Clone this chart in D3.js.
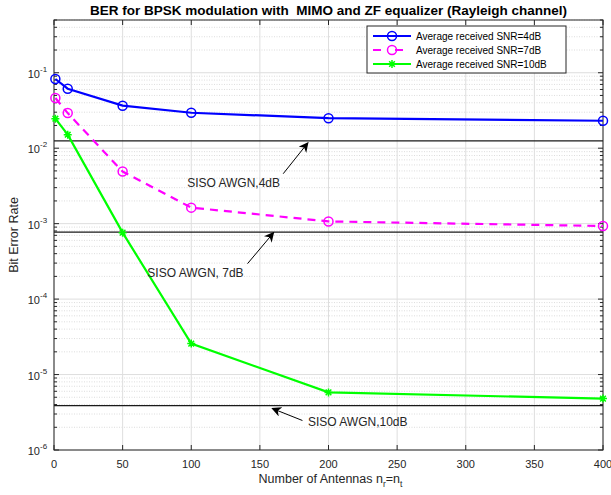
<!DOCTYPE html>
<html>
<head>
<meta charset="utf-8">
<script src="https://cdn.jsdelivr.net/npm/d3@7"></script>
<style>
  body { margin: 0; background: #fff; }
  svg { font-family: "Liberation Sans", Arial, Helvetica, sans-serif; display: block; }
</style>
</head>
<body>
<div id="chart"></div>
<script>
// Data
const antennas = [1, 10, 50, 100, 200, 400];
const berSnr4 = [0.0826, 0.0614, 0.0366, 0.0295, 0.025, 0.0231];
const berSnr7 = [0.0462, 0.0292, 0.0049, 0.00163, 0.00107, 0.00093];
const berSnr10 = [0.0246, 0.0151, 0.00076, 2.57e-5, 5.8e-6, 4.8e-6];
const seriesNames = ["Average received SNR=4dB", "Average received SNR=7dB", "Average received SNR=10dB"];

// SISO AWGN reference BERs (BPSK) at 4, 7, 10 dB
const sisoBer = [0.0125, 7.73e-4, 3.87e-6];

// Annotations in data units: text anchor, arrow tail, arrow head
const annotations = [
  {label: "SISO AWGN,4dB", tx: 97, ty: 3.49e-3, x1: 167, y1: 4.59e-3, x2: 185, y2: 0.0118},
  {label: "SISO AWGN, 7dB", tx: 68, ty: 2.26e-4, x1: 141, y1: 2.95e-4, x2: 160, y2: 7.6e-4},
  {label: "SISO AWGN,10dB", tx: 185, ty: 2.4e-6, x1: 181, y1: 2.46e-6, x2: 159, y2: 3.55e-6}
];

const xTicks = [0, 50, 100, 150, 200, 250, 300, 350, 400];
const yDecades = [-6, -5, -4, -3, -2, -1];

// Dimensions
const width = 611;
const height = 495;
const margin = {top: 20, right: 8, bottom: 45, left: 54};
const innerWidth = width - margin.left - margin.right;
const innerHeight = height - margin.top - margin.bottom;

const svg = d3.select("#chart")
  .append("svg")
    .attr("width", width)
    .attr("height", height);

const defs = svg.append("defs");
defs.append("marker")
    .attr("id", "arrowhead")
    .attr("viewBox", "0 0 10 10")
    .attr("refX", 9)
    .attr("refY", 5)
    .attr("markerWidth", 10)
    .attr("markerHeight", 10)
    .attr("markerUnits", "userSpaceOnUse")
    .attr("orient", "auto")
  .append("path")
    .attr("d", "M0,0 L10,5 L0,10 L3,5 Z")
    .attr("fill", "#000");

const inner = svg.append("g")
  .attr("transform", `translate(${margin.left}, ${margin.top})`);

// Scales
const x = d3.scaleLinear().domain([0, 400]).range([0, innerWidth]);
const y = d3.scaleLog().domain([1e-6, 0.5]).range([innerHeight, 0]);

// minor values on the log axis
const minorVals = [];
yDecades.forEach(e => {
  d3.range(2, 10).forEach(m => {
    const v = m * Math.pow(10, e);
    if (v <= 0.5 + 1e-12) minorVals.push(v);
  });
});

// Grid: y minor dotted, y major and x major solid light
inner.append("g")
  .selectAll("line")
  .data(minorVals)
  .join("line")
    .attr("x1", 0).attr("x2", innerWidth)
    .attr("y1", d => y(d)).attr("y2", d => y(d))
    .attr("stroke", "#d4d4d4")
    .attr("stroke-width", 0.8)
    .attr("stroke-dasharray", "1,1.5");

inner.append("g")
  .selectAll("line")
  .data(yDecades.map(e => Math.pow(10, e)))
  .join("line")
    .attr("x1", 0).attr("x2", innerWidth)
    .attr("y1", d => y(d)).attr("y2", d => y(d))
    .attr("stroke", "#dedede")
    .attr("stroke-width", 1);

inner.append("g")
  .selectAll("line")
  .data(xTicks)
  .join("line")
    .attr("x1", d => x(d)).attr("x2", d => x(d))
    .attr("y1", 0).attr("y2", innerHeight)
    .attr("stroke", "#dedede")
    .attr("stroke-width", 1);

// SISO AWGN reference lines
inner.append("g")
  .selectAll("line")
  .data(sisoBer)
  .join("line")
    .attr("x1", 0).attr("x2", innerWidth)
    .attr("y1", d => y(d)).attr("y2", d => y(d))
    .attr("stroke", "#1a1a1a")
    .attr("stroke-width", 1.3);

// Box and inner ticks (MATLAB style)
const axisColor = "#262626";
const tickG = inner.append("g").attr("stroke", axisColor).attr("stroke-width", 1);
xTicks.forEach(t => {
  tickG.append("line").attr("x1", x(t)).attr("x2", x(t)).attr("y1", innerHeight).attr("y2", innerHeight - 5);
  tickG.append("line").attr("x1", x(t)).attr("x2", x(t)).attr("y1", 0).attr("y2", 5);
});
yDecades.forEach(e => {
  const v = y(Math.pow(10, e));
  tickG.append("line").attr("x1", 0).attr("x2", 5).attr("y1", v).attr("y2", v);
  tickG.append("line").attr("x1", innerWidth).attr("x2", innerWidth - 5).attr("y1", v).attr("y2", v);
});
minorVals.forEach(m => {
  const v = y(m);
  tickG.append("line").attr("x1", 0).attr("x2", 3).attr("y1", v).attr("y2", v);
  tickG.append("line").attr("x1", innerWidth).attr("x2", innerWidth - 3).attr("y1", v).attr("y2", v);
});

inner.append("rect")
  .attr("width", innerWidth)
  .attr("height", innerHeight)
  .attr("fill", "none")
  .attr("stroke", axisColor)
  .attr("stroke-width", 1);

// Tick labels
inner.append("g")
  .selectAll("text")
  .data(xTicks)
  .join("text")
    .attr("x", d => x(d))
    .attr("y", innerHeight + 18)
    .attr("text-anchor", "middle")
    .attr("font-size", 11)
    .attr("fill", axisColor)
    .text(d => d);

// y labels as 10 with a raised exponent
const yLab = inner.append("g")
  .selectAll("g")
  .data(yDecades)
  .join("g")
    .attr("transform", d => `translate(-14, ${y(Math.pow(10, d)) + 5})`);
yLab.append("text")
  .attr("text-anchor", "end")
  .attr("font-size", 11)
  .attr("fill", axisColor)
  .text("10");
yLab.append("text")
  .attr("x", 0)
  .attr("y", -6)
  .attr("font-size", 8)
  .attr("fill", axisColor)
  .text(d => "-" + (-d));

// Axis titles
const xTitle = svg.append("text")
  .attr("x", margin.left + innerWidth / 2 + 2)
  .attr("y", 483)
  .attr("text-anchor", "middle")
  .attr("font-size", 12.5)
  .attr("fill", axisColor);
xTitle.append("tspan").text("Number of Antennas n");
xTitle.append("tspan").attr("dy", 4).attr("font-size", 8.5).text("r");
xTitle.append("tspan").attr("dy", -4).text("=n");
xTitle.append("tspan").attr("dy", 4).attr("font-size", 8.5).text("t");

svg.append("text")
  .attr("transform", `translate(18, ${margin.top + innerHeight / 2}) rotate(-90)`)
  .attr("text-anchor", "middle")
  .attr("font-size", 12.5)
  .attr("fill", axisColor)
  .text("Bit Error Rate");

svg.append("text")
  .attr("x", margin.left + innerWidth / 2)
  .attr("y", 15)
  .attr("text-anchor", "middle")
  .attr("font-size", 13.5)
  .attr("font-weight", "bold")
  .attr("fill", "#000")
  .attr("xml:space", "preserve")
  .style("white-space", "pre")
  .text("BER for BPSK modulation with  MIMO and ZF equalizer (Rayleigh channel)");

// Series
const series = [
  {name: seriesNames[0], values: berSnr4, color: "#0000ff", dash: null, marker: "circle"},
  {name: seriesNames[1], values: berSnr7, color: "#ff00ff", dash: "8,6", marker: "circle"},
  {name: seriesNames[2], values: berSnr10, color: "#00ff00", dash: null, marker: "star"}
];

const line = d3.line()
  .x(d => x(d[0]))
  .y(d => y(d[1]));

const starPath = r => {
  const a = r * 0.7071;
  return `M${-r},0L${r},0M0,${-r}L0,${r}M${-a},${-a}L${a},${a}M${-a},${a}L${a},${-a}`;
};

const drawMarker = (g, s, cx, cy) => {
  if (s.marker === "circle") {
    g.append("circle")
      .attr("cx", cx).attr("cy", cy).attr("r", 4.5)
      .attr("fill", "none")
      .attr("stroke", s.color)
      .attr("stroke-width", 1.5);
  } else {
    g.append("path")
      .attr("transform", `translate(${cx},${cy})`)
      .attr("d", starPath(4))
      .attr("fill", "none")
      .attr("stroke", s.color)
      .attr("stroke-width", 1.5);
  }
};

series.forEach(s => {
  const pts = antennas.map((a, i) => [a, s.values[i]]);
  const g = inner.append("g");
  g.append("path")
    .datum(pts)
    .attr("d", line)
    .attr("fill", "none")
    .attr("stroke", s.color)
    .attr("stroke-width", 2.2)
    .attr("stroke-dasharray", s.dash);
  pts.forEach(p => drawMarker(g, s, x(p[0]), y(p[1])));
});

// Annotations
annotations.forEach(a => {
  inner.append("line")
    .attr("x1", x(a.x1)).attr("y1", y(a.y1))
    .attr("x2", x(a.x2)).attr("y2", y(a.y2))
    .attr("stroke", "#000")
    .attr("stroke-width", 1)
    .attr("marker-end", "url(#arrowhead)");
  inner.append("text")
    .attr("x", x(a.tx))
    .attr("y", y(a.ty))
    .attr("dy", "0.35em")
    .attr("font-size", 12)
    .attr("fill", "#262626")
    .text(a.label);
});

// Legend
const legend = svg.append("g").attr("transform", "translate(367, 26)");
legend.append("rect")
  .attr("width", 199)
  .attr("height", 47)
  .attr("fill", "#fff")
  .attr("stroke", "#262626")
  .attr("stroke-width", 1);

series.forEach((s, i) => {
  const row = legend.append("g").attr("transform", `translate(0, ${10 + i * 14})`);
  row.append("line")
    .attr("x1", 6).attr("x2", 44)
    .attr("y1", 0).attr("y2", 0)
    .attr("stroke", s.color)
    .attr("stroke-width", 2.2)
    .attr("stroke-dasharray", s.dash ? "8,14,8" : null);
  drawMarker(row, s, 25, 0);
  row.append("text")
    .attr("x", 49)
    .attr("y", 0)
    .attr("dy", "0.35em")
    .attr("font-size", 10)
    .attr("fill", "#000")
    .text(s.name);
});
</script>
</body>
</html>
